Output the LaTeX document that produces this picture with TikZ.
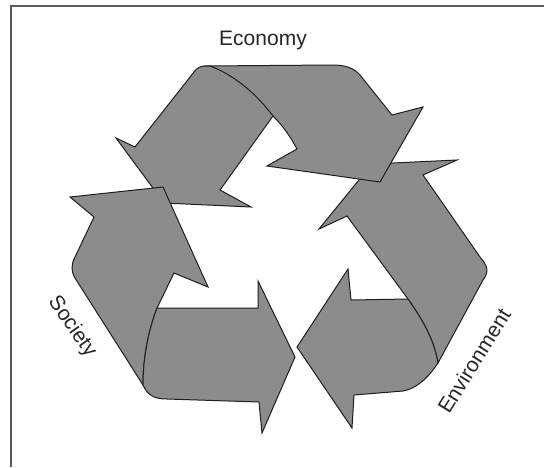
\documentclass[tikz,border=0pt]{standalone}
\usepackage{fontspec}
\setmainfont{Liberation Sans}
\definecolor{arrowgray}{HTML}{8C8C8C}
\definecolor{inkline}{HTML}{1E1E1E}
\definecolor{framegray}{HTML}{5A5A5A}
\tikzset{
  band/.style={fill=arrowgray,draw=inkline,line width=1pt,line join=miter,miter limit=8},
  caption/.style={font=\fontsize{21}{24}\selectfont,text=black!85,inner sep=0pt},
  framing/.style={draw=framegray,line width=1.6pt}
}
\begin{document}
\begin{tikzpicture}[x=1pt,y=-1pt]
\useasboundingbox (0,0) rectangle (544,467);
\fill[white] (0,0) rectangle (544,467);
\draw[framing] (11,467) -- (11,6) -- (544,6);
% Environment: upper band
\draw[band] (372,164) -- (457,160) -- (423,175) -- (480,257)
  .. controls (488,266) and (489,272) .. (483,280)
  -- (438,363) .. controls (434,340) and (424,322) .. (408,299)
  -- (347,216) -- (319,229) -- cycle;
% Environment: lower band
\draw[band] (408,299) -- (351,300) -- (348,269) -- (297,347) -- (352,428) -- (354,395) -- (403,391)
  .. controls (416,389) and (428,378) .. (438,363)
  .. controls (434,340) and (424,322) .. (408,299) -- cycle;
% Economy: right-pointing band
\draw[band] (205,66) -- (333,65) .. controls (345,65) and (354,68) .. (360,75)
  -- (392,115) -- (423,107) -- (380,182) -- (267,166) -- (297,149)
  .. controls (290,136) and (283,126) .. (273,116) -- (205,66) -- cycle;
% Economy: left-pointing band
\draw[band] (205,66) .. controls (200,66) and (197,68) .. (194,72)
  -- (135,147) -- (116,138) -- (164,203) -- (251,207) -- (220,190) -- (273,116)
  .. controls (255,92) and (232,74) .. (210,66) -- cycle;
% Society: upper band
\draw[band] (70,197) -- (163,187) -- (208,287) -- (174,273) -- (157,308)
  .. controls (148,332) and (143,358) .. (143,385)
  -- (75,278) .. controls (71,271) and (71,265) .. (75,257)
  -- (94,217) -- cycle;
% Society: lower band
\draw[band] (157,308) -- (258,308) -- (258,281) -- (295,357) -- (262,433) -- (259,402) -- (167,399)
  .. controls (155,399) and (148,396) .. (143,385)
  .. controls (143,358) and (148,332) .. (157,308) -- cycle;
\node[caption] (economy) at (263,40) {Economy};
\node[caption,rotate=-55] (society) at (72,327) {Society};
\node[caption,rotate=58] (environment) at (474,361) {Environment};
\end{tikzpicture}
\end{document}
